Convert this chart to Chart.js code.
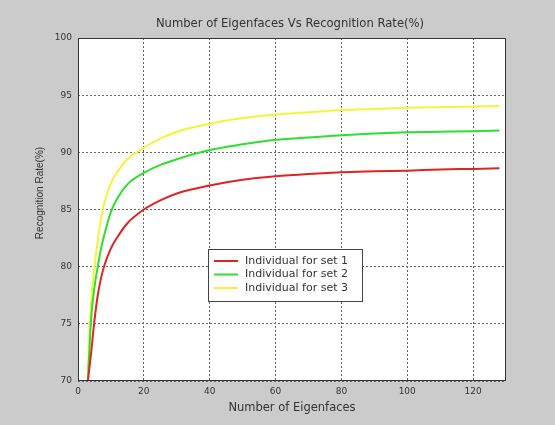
<!DOCTYPE html>
<html>
<head>
<meta charset="utf-8">
<script src="https://cdn.jsdelivr.net/npm/chart.js@4.4.0/dist/chart.umd.min.js"></script>
<style>
	body{margin:0;background:#cbcbcb;}
	#line{display:block;background:#cbcbcb;}
</style>
</head>
<body>
<canvas id="line" width="555" height="425"></canvas>
<script>
// number of eigenfaces (x) and recognition rate per set
const eigenfaces = [3, 4, 5, 6, 7, 8, 10, 12, 15, 20, 25, 30, 40, 50, 60, 70, 80, 90, 100, 110, 120, 128];
const set1 = [70, 72.5, 75.3, 77.5, 79, 80.1, 81.6, 82.6, 83.8, 85.0, 85.8, 86.4, 87.1, 87.6, 87.9, 88.1, 88.25, 88.35, 88.4, 88.5, 88.55, 88.6];
const set2 = [70, 75.5, 78.2, 80.0, 81.6, 82.8, 84.8, 86.0, 87.2, 88.2, 88.9, 89.4, 90.2, 90.7, 91.1, 91.3, 91.5, 91.65, 91.75, 91.8, 91.85, 91.9];
const set3 = [71, 77, 80, 82.3, 84.2, 85.6, 87.3, 88.3, 89.4, 90.4, 91.2, 91.8, 92.5, 93.0, 93.3, 93.5, 93.7, 93.8, 93.9, 93.95, 94.0, 94.05];
const seriesNames = ['Individual for set 1', 'Individual for set 2', 'Individual for set 3'];
const xTicks = [0, 20, 40, 60, 80, 100, 120];
const yTicks = [70, 75, 80, 85, 90, 95, 100];
const chartTitle = 'Number of Eigenfaces Vs Recognition Rate(%)';
const yTitle = 'Recognition Rate(%)';

const colors = ['#e02424', '#2ee02e', '#f4f43a'];
const textColor = '#333';
const gridStyle = {color:'#666', lineWidth:1, drawTicks:false};
const gridBorder = {display:false, dash:[2,2]};

function pts(ys){
	return eigenfaces.map((x, i) => ({x: x, y: ys[i]}));
}

// white axes background + box around it (matlab "box on")
const axesBox = {
	id: 'axesBox',
	beforeDraw(chart){
		const a = chart.chartArea, c = chart.ctx;
		c.save();
		c.fillStyle = '#fff';
		c.fillRect(a.left, a.top, a.right - a.left, a.bottom - a.top);
		c.restore();
	},
	afterDatasetsDraw(chart){
		const a = chart.chartArea, c = chart.ctx;
		c.save();
		c.strokeStyle = '#333';
		c.lineWidth = 1;
		c.strokeRect(a.left + 0.5, a.top + 0.5, a.right - a.left - 1, a.bottom - a.top - 1);
		c.restore();
	}
};

// title and y label, centred the matlab way
const axesText = {
	id: 'axesText',
	afterDraw(chart){
		const a = chart.chartArea, c = chart.ctx;
		c.save();
		c.fillStyle = textColor;
		c.textAlign = 'center';
		c.textBaseline = 'middle';
		c.font = '11.6px "DejaVu Sans"';
		c.fillText(chartTitle, (a.left + a.right) / 2 - 2, 24);
		c.translate(40, 193);
		c.rotate(-Math.PI / 2);
		c.font = '10px "Liberation Sans"';
		c.fillText(yTitle, 0, 0);
		c.restore();
	}
};

// legend box inside the plot
const boxLegend = {
	id: 'boxLegend',
	afterDraw(chart){
		const c = chart.ctx;
		const bx = 208, by = 249, bw = 154, bh = 52;
		c.save();
		c.fillStyle = '#fff';
		c.fillRect(bx, by, bw, bh);
		c.strokeStyle = '#444';
		c.lineWidth = 1;
		c.strokeRect(bx + 0.5, by + 0.5, bw, bh);
		c.font = '11px "DejaVu Sans"';
		c.textBaseline = 'middle';
		chart.data.datasets.forEach((ds, i) => {
			const y = by + 12 + i * 13.5;
			c.strokeStyle = ds.borderColor;
			c.lineWidth = 2;
			c.beginPath();
			c.moveTo(bx + 6, y);
			c.lineTo(bx + 30, y);
			c.stroke();
			c.fillStyle = textColor;
			c.fillText(ds.label, bx + 37, y);
		});
		c.restore();
	}
};

const ctx = document.getElementById('line').getContext('2d');
const line = new Chart(ctx, {
	type: 'line',
	data: {
		datasets: [set1, set2, set3].map((s, i) => ({
			label: seriesNames[i],
			data: pts(s),
			borderColor: colors[i],
			backgroundColor: colors[i],
			borderWidth: 2,
			pointRadius: 0,
			cubicInterpolationMode: 'monotone'
		}))
	},
	options: {
		responsive: false,
		animation: false,
		layout: {padding: {left: 0, right: 49, top: 38, bottom: 0}},
		plugins: {
			legend: {display: false},
			tooltip: {enabled: false},
			title: {display: false}
		},
		scales: {
			x: {
				type: 'linear',
				min: 0,
				max: 130,
				afterBuildTicks: s => { s.ticks = xTicks.map(v => ({value: v})); },
				afterFit: s => { s.height = 44; },
				grid: gridStyle,
				border: gridBorder,
				ticks: {color: textColor, padding: 5, maxRotation: 0, font: {family: 'DejaVu Sans', size: 9}},
				title: {
					display: true,
					text: 'Number of Eigenfaces',
					color: textColor,
					font: {family: 'DejaVu Sans', size: 11.5},
					padding: {top: 0, bottom: 10}
				}
			},
			y: {
				min: 70,
				max: 100,
				afterBuildTicks: s => { s.ticks = yTicks.map(v => ({value: v})); },
				afterFit: s => { s.width = 78; },
				grid: gridStyle,
				border: gridBorder,
				ticks: {color: textColor, padding: 6, font: {family: 'DejaVu Sans', size: 9}}
			}
		}
	},
	plugins: [axesBox, axesText, boxLegend]
});
</script>
</body>
</html>
